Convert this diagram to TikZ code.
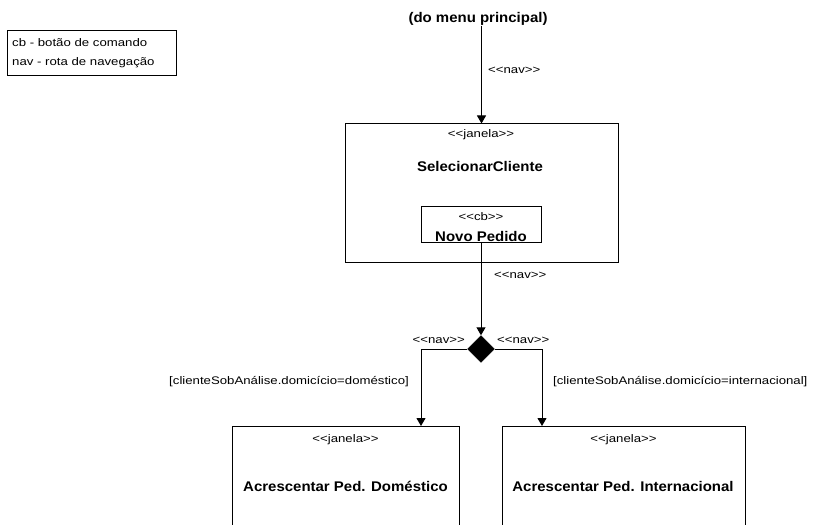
\documentclass[tikz,border=0pt]{standalone}
\usepackage{fontspec}
\setmainfont{Liberation Sans}
\newfontfamily\labfont[FakeStretch=1.2]{Liberation Sans}
\newfontfamily\titfont[FakeStretch=1.07]{Liberation Sans}
\usetikzlibrary{arrows.meta,shapes.geometric}
\tikzset{
  lab/.style={inner sep=0pt, font=\labfont\fontsize{11bp}{13bp}\selectfont},
  tit/.style={inner sep=0pt, font=\titfont\bfseries\fontsize{14bp}{16bp}\selectfont},
  winbox/.style={draw, line width=1bp, inner sep=0pt},
  navline/.style={line width=1bp, -{Triangle[length=8bp,width=9bp]}},
  plainline/.style={line width=1bp},
  choice/.style={diamond, fill=black, draw, inner sep=0pt, minimum width=27bp, minimum height=27bp},
}
\begin{document}
\begin{tikzpicture}[x=1bp,y=-1bp]
\useasboundingbox (0,0) rectangle (817,525);
\clip (0,0) rectangle (817,525);

% legend
\node[winbox, minimum width=168bp, minimum height=45bp] (legend) at (92,53.5) {};
\node[lab, anchor=west] (leg1) at (12,43) {cb - botão de comando};
\node[lab, anchor=west] (leg2) at (12,62.5) {nav - rota de navegação};

% entry point
\node[tit] (menu) at (478,19) {(do menu principal)};

% window SelecionarCliente
\node[winbox, minimum width=273bp, minimum height=138bp] (sel) at (481.5,193) {};
\node[lab] (seljan) at (481,135) {<<janela>>};
\node[tit] (selname) at (480,166) {SelecionarCliente};

% command button
\node[winbox, minimum width=120bp, minimum height=36bp] (cb) at (481,225) {};
\node[lab] (cbst) at (481,216.5) {<<cb>>};
\node[tit] (cbname) at (481,236) {Novo Pedido};

% decision
\node[choice] (dec) at (481,349) {};

% target windows
\node[winbox, minimum width=227bp, minimum height=130bp, anchor=north] (dom) at (345.5,426) {};
\node[lab] (domjan) at (345.5,440) {<<janela>>};
\node[tit] (domname) at (345.5,486) {Acrescentar Ped. Doméstico};

\node[winbox, minimum width=243bp, minimum height=130bp, anchor=north] (int) at (623.5,426) {};
\node[lab] (intjan) at (623.5,440) {<<janela>>};
\node[tit] (intname) at (623,486) {Acrescentar Ped. Internacional};

% navigation routes
\draw[navline] (menu.south -| sel.north) -- (sel.north);
\node[lab, anchor=west] (nav1) at (488,70) {<<nav>>};

\draw[navline] (cb.south) -- (dec.north);
\node[lab, anchor=west] (nav2) at (494,275) {<<nav>>};

\draw[navline] (dec.west) -| ([xshift=75.5bp]dom.north);
\draw[navline] (dec.east) -| ([xshift=-81.5bp]int.north);
\node[lab, anchor=east] (nav3) at (465,340) {<<nav>>};
\node[lab, anchor=west] (nav4) at (497,340) {<<nav>>};

\node[lab, anchor=east] (gdom) at (409,382) {[clienteSobAnálise.domicício=doméstico]};
\node[lab, anchor=west] (gint) at (553,382) {[clienteSobAnálise.domicício=internacional]};
\end{tikzpicture}
\end{document}
